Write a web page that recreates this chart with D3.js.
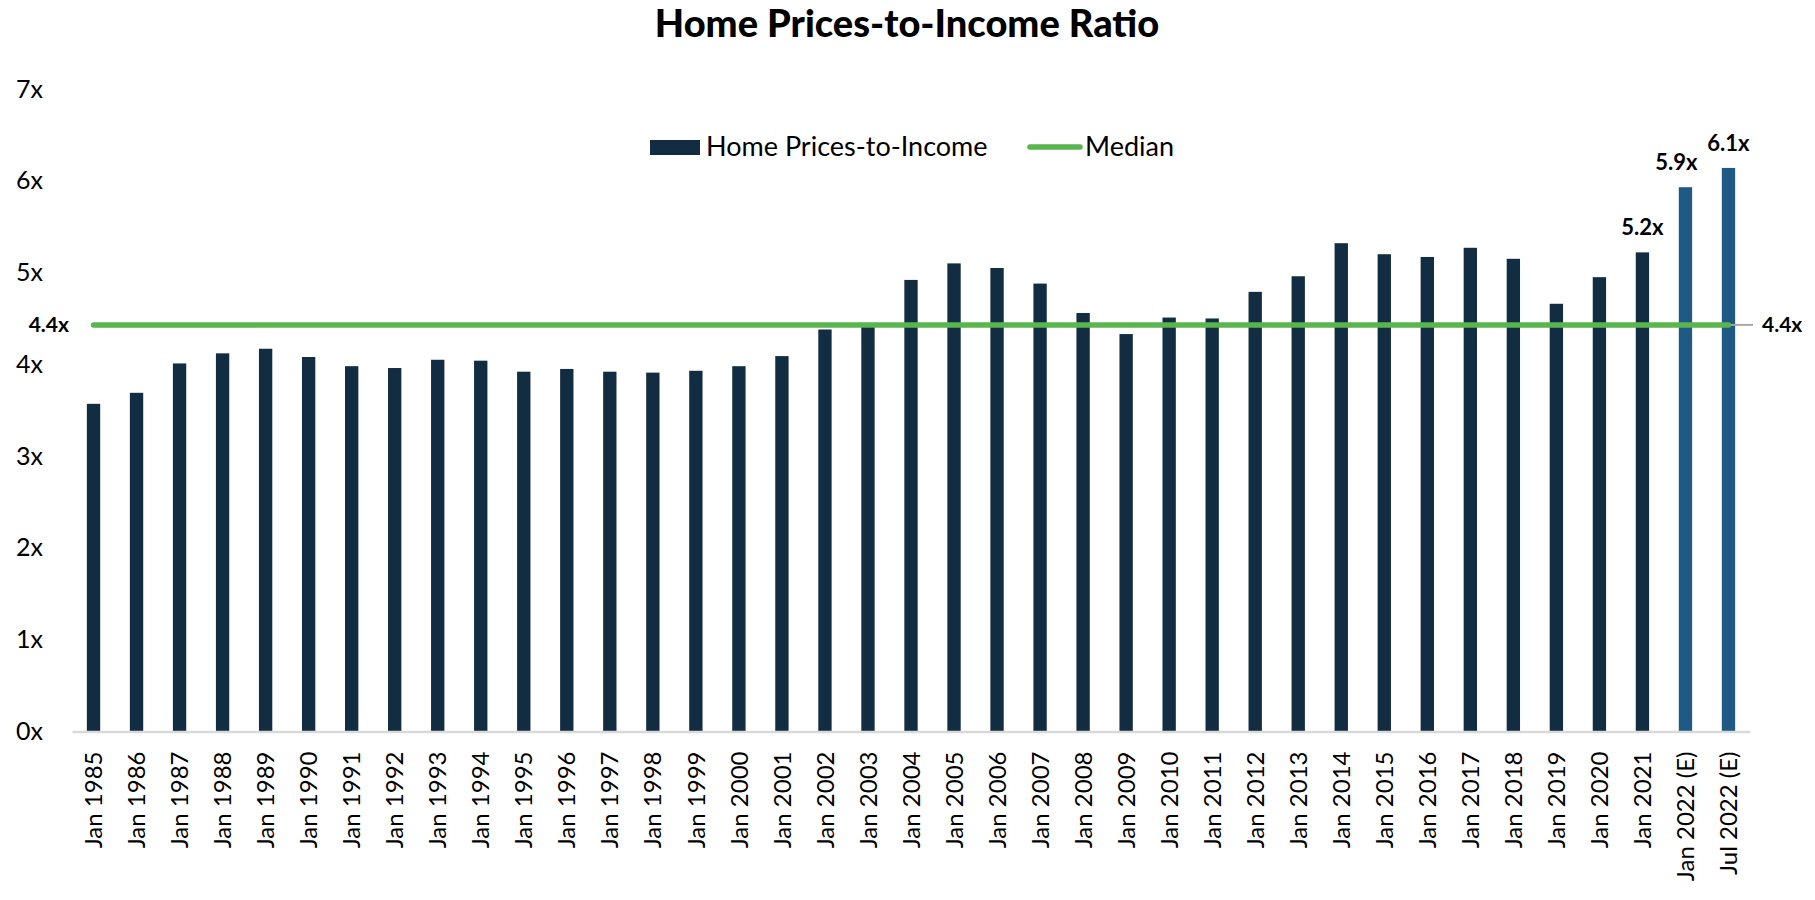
<!DOCTYPE html>
<html>
<head>
<meta charset="utf-8">
<script src="https://cdn.jsdelivr.net/npm/d3@7"></script>
<style>
  html, body { margin: 0; padding: 0; background: #fff; }
  svg { display: block; }
</style>
</head>
<body>
<svg id="chart" width="1815" height="900"></svg>
<script>
// ---- data ----
const categories = ["Jan 1985","Jan 1986","Jan 1987","Jan 1988","Jan 1989","Jan 1990","Jan 1991","Jan 1992","Jan 1993","Jan 1994","Jan 1995","Jan 1996","Jan 1997","Jan 1998","Jan 1999","Jan 2000","Jan 2001","Jan 2002","Jan 2003","Jan 2004","Jan 2005","Jan 2006","Jan 2007","Jan 2008","Jan 2009","Jan 2010","Jan 2011","Jan 2012","Jan 2013","Jan 2014","Jan 2015","Jan 2016","Jan 2017","Jan 2018","Jan 2019","Jan 2020","Jan 2021","Jan 2022 (E)","Jul 2022 (E)"];
const ratioValues = [3.57,3.69,4.01,4.12,4.17,4.08,3.98,3.96,4.05,4.04,3.92,3.95,3.92,3.91,3.93,3.98,4.09,4.38,4.43,4.92,5.10,5.05,4.88,4.56,4.33,4.51,4.50,4.79,4.96,5.32,5.20,5.17,5.27,5.15,4.66,4.95,5.22,5.93,6.14];
const estimated = ["Jan 2022 (E)","Jul 2022 (E)"];
const labelled = ["Jan 2021","Jan 2022 (E)","Jul 2022 (E)"];
const medianValue = 4.43;
const yTicks = [0,1,2,3,4,5,6,7];
const titleText = "Home Prices-to-Income Ratio";
const seriesNames = ["Home Prices-to-Income","Median"];

// ---- layout ----
const svg = d3.select("#chart");
const colBar = "#122D42", colEst = "#1F5A84", colMed = "#5AB54E";
const font = "Lato, 'Open Sans', sans-serif";

const x = d3.scaleBand().domain(categories).range([72, 1750]).paddingInner(0.69).paddingOuter(0.345);
const y = d3.scaleLinear().domain([0, 7]).range([731.5, 89]);

// title
svg.append("text").attr("x", 907).attr("y", 37).attr("text-anchor", "middle")
  .style("font-family", font).style("font-weight", "900").style("font-size", "38px")
  .text(titleText);

// y axis (labels only)
const yAxis = d3.axisLeft(y).tickValues(yTicks).tickFormat(d => d + "x").tickSize(0).tickPadding(0);
const yg = svg.append("g").attr("transform", "translate(43,0)").call(yAxis);
yg.select(".domain").remove();
yg.selectAll("text").style("font-family", font).style("font-size", "25px").attr("fill", "#000");

// bars
svg.append("g").selectAll("rect").data(categories).join("rect")
  .attr("x", d => x(d))
  .attr("width", x.bandwidth())
  .attr("y", (d, i) => y(ratioValues[i]))
  .attr("height", (d, i) => y(0) - y(ratioValues[i]))
  .attr("fill", d => estimated.includes(d) ? colEst : colBar);

// x axis
const xAxis = d3.axisBottom(x).tickSize(0).tickPadding(0);
const xg = svg.append("g").attr("transform", `translate(0,${y(0)})`).call(xAxis);
xg.select(".domain").attr("stroke", "#D9D9D9").attr("stroke-width", 2.5);
xg.selectAll("text")
  .style("font-family", font).style("font-size", "24px").attr("fill", "#000")
  .attr("transform", "rotate(-90)")
  .attr("text-anchor", "end")
  .attr("x", -20).attr("y", 0).attr("dy", "0.36em");

// median line
const xFirst = x(categories[0]) + x.bandwidth() / 2;
const xLast = x(categories[categories.length - 1]) + x.bandwidth() / 2;
svg.append("line").attr("x1", xLast).attr("x2", 1753).attr("y1", y(medianValue)).attr("y2", y(medianValue))
  .attr("stroke", "#A6A6A6").attr("stroke-width", 2);
svg.append("line").attr("x1", xFirst).attr("x2", xLast).attr("y1", y(medianValue)).attr("y2", y(medianValue))
  .attr("stroke", colMed).attr("stroke-width", 5.5).attr("stroke-linecap", "round");

svg.append("text").attr("x", 69).attr("y", y(medianValue)).attr("dy", "0.35em").attr("text-anchor", "end")
  .style("font-family", font).style("font-weight", "bold").style("font-size", "21px")
  .text(d3.format(".1f")(medianValue) + "x");
svg.append("text").attr("x", 1762).attr("y", y(medianValue)).attr("dy", "0.35em").attr("text-anchor", "start")
  .style("font-family", font).style("font-weight", "bold").style("font-size", "21px")
  .text(d3.format(".1f")(medianValue) + "x");

// data labels
const labelOffset = {"Jan 2021": 0, "Jan 2022 (E)": -9, "Jul 2022 (E)": 0};
svg.append("g").selectAll("text").data(labelled).join("text")
  .attr("x", d => x(d) + x.bandwidth() / 2 + labelOffset[d])
  .attr("y", d => y(ratioValues[categories.indexOf(d)]) - 17)
  .attr("text-anchor", "middle")
  .style("font-family", font).style("font-weight", "bold").style("font-size", "22px")
  .text(d => d3.format(".1f")(ratioValues[categories.indexOf(d)]) + "x");

// legend
const lg = svg.append("g");
lg.append("rect").attr("x", 650).attr("y", 140).attr("width", 50).attr("height", 15).attr("fill", colBar);
lg.append("text").attr("x", 706).attr("y", 147).attr("dy", "0.35em")
  .style("font-family", font).style("font-size", "27px").text(seriesNames[0]);
lg.append("line").attr("x1", 1030).attr("x2", 1080).attr("y1", 147).attr("y2", 147)
  .attr("stroke", colMed).attr("stroke-width", 5.5).attr("stroke-linecap", "round");
lg.append("text").attr("x", 1085).attr("y", 147).attr("dy", "0.35em")
  .style("font-family", font).style("font-size", "27px").text(seriesNames[1]);
</script>
</body>
</html>
